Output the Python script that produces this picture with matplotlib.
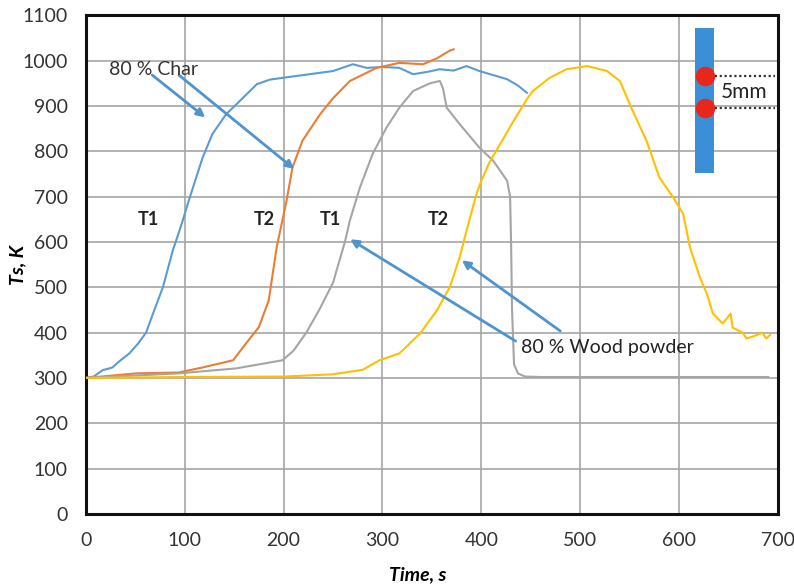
import matplotlib
matplotlib.use("Agg")
import matplotlib.pyplot as plt
from matplotlib.patches import Rectangle

plt.rcParams['font.family'] = ['Lato', 'DejaVu Sans']

# Surface temperature histories (time in s, temperature in K)
char_t1_time = [0, 8, 17, 27, 33, 44, 53, 61, 68, 78, 88, 97, 105, 118, 128, 142, 153, 173,
                186, 199, 250, 270, 284, 300, 317, 331, 345, 358, 372, 385, 398, 412, 426,
                437, 446]
char_t1_temp = [300, 303, 317, 323, 335, 354, 376, 400, 442, 500, 581, 640, 697, 785, 838,
                882, 905, 948, 958, 962, 977, 992, 984, 986, 984, 970, 975, 981, 978, 988,
                977, 968, 959, 945, 929]

char_t2_time = [0, 51, 94, 118, 149, 162, 175, 185, 193, 203, 209, 219, 237, 250, 267, 294,
                317, 341, 355, 368, 372]
char_t2_temp = [300, 310, 312, 323, 339, 376, 412, 471, 588, 691, 764, 823, 882, 917, 955,
                984, 995, 992, 1005, 1022, 1025]

wood_t1_time = [0, 94, 152, 199, 210, 223, 236, 250, 262, 267, 277, 290, 304, 317, 331, 348,
                358, 361, 365, 378, 398, 412, 426, 429, 430, 431, 433, 437, 444, 460, 690]
wood_t1_temp = [300, 310, 321, 339, 360, 400, 450, 510, 600, 647, 719, 794, 852, 896, 933,
                950, 955, 940, 896, 860, 808, 779, 735, 700, 600, 450, 330, 310, 303, 302, 302]

wood_t2_time = [0, 100, 200, 250, 280, 297, 317, 338, 355, 368, 378, 385, 395, 400, 408, 419,
                432, 446, 452, 469, 486, 507, 527, 540, 553, 567, 580, 594, 604, 611, 621, 628,
                634, 644, 652, 654, 664, 668, 678, 684, 688, 692]
wood_t2_temp = [300, 302, 303, 308, 318, 339, 354, 398, 449, 500, 566, 625, 706, 735, 775, 816,
                865, 915, 933, 962, 981, 988, 977, 955, 889, 823, 742, 698, 662, 587, 521, 486,
                442, 420, 442, 411, 400, 387, 394, 400, 387, 395]

x_ticks = [0, 100, 200, 300, 400, 500, 600, 700]
y_ticks = [0, 100, 200, 300, 400, 500, 600, 700, 800, 900, 1000, 1100]

fig = plt.figure(figsize=(7.94, 5.88), dpi=100)
ax = fig.add_axes([0.108, 0.126, 0.872, 0.848])

ax.plot(char_t1_time, char_t1_temp, color='#5b9bd5', lw=1.5, zorder=3)
ax.plot(char_t2_time, char_t2_temp, color='#ed7d31', lw=1.5, zorder=3)
ax.plot(wood_t1_time, wood_t1_temp, color='#a5a5a5', lw=1.5, zorder=3)
ax.plot(wood_t2_time, wood_t2_temp, color='#ffc000', lw=1.5, zorder=3)

ax.set_xlim(0, 700)
ax.set_ylim(0, 1100)
ax.set_xticks(x_ticks)
ax.set_yticks(y_ticks)
ax.grid(True, color='#a6a6a6', lw=1.2, zorder=0)
ax.set_axisbelow(True)
for s in ax.spines.values():
    s.set_color('#111111')
    s.set_linewidth(2.2)
ax.tick_params(axis='both', length=0, labelsize=14, labelcolor='#333333')
ax.tick_params(axis='y', pad=13)
ax.tick_params(axis='x', pad=13)

ax.set_xlabel('Time, s', fontsize=14, fontweight='bold', fontstyle='italic')
ax.xaxis.set_label_coords(0.48, -0.104)
ax.set_ylabel('Ts, K', fontsize=14, fontweight='bold', fontstyle='italic')
ax.yaxis.set_label_coords(-0.086, 0.5)

arrow_kw = dict(arrowstyle='-|>', color='#4f93cf', lw=2.0, mutation_scale=12)
ax.annotate('', xy=(123, 871), xytext=(65, 972), arrowprops=arrow_kw)
ax.annotate('', xy=(213, 757), xytext=(92, 972), arrowprops=arrow_kw)
ax.text(24, 981, '80 % Char', fontsize=14, color='#333333', va='center', ha='left')

ax.annotate('', xy=(265, 609), xytext=(437, 378), arrowprops=arrow_kw)
ax.annotate('', xy=(378, 563), xytext=(482, 400), arrowprops=arrow_kw)
ax.text(440, 367, '80 % Wood powder', fontsize=14, color='#222222', va='center', ha='left')

for tx, lab in [(63, 'T1'), (181, 'T2'), (247, 'T1'), (356, 'T2')]:
    ax.text(tx, 650, lab, fontsize=13, fontweight='bold', color='#222222',
            ha='center', va='center')

# Sample sketch with thermocouple positions
ax.add_patch(Rectangle((616, 752), 19, 320, facecolor='#3a8fd6', edgecolor='none', zorder=4))
for ty in (966, 895):
    ax.plot([626, 697], [ty, ty], ls=(0, (1, 1.2)), color='#333333', lw=1.6, zorder=5)
    ax.plot(626, ty, 'o', color='#e8261c', ms=13, zorder=6)
ax.text(642, 930, '5mm', fontsize=15, color='#222222', va='center', ha='left', zorder=6)

fig.savefig('out.png', dpi=100)
